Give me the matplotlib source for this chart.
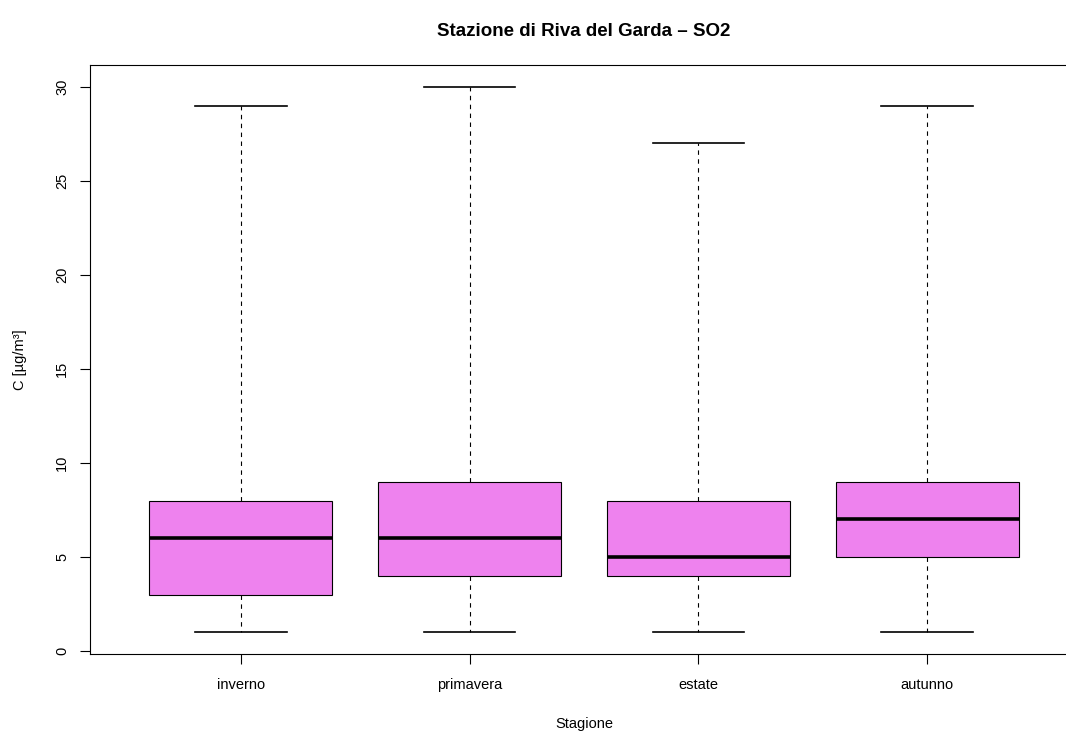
import matplotlib
matplotlib.use('Agg')
import matplotlib.pyplot as plt

plt.rcParams['font.family'] = ['Liberation Sans', 'DejaVu Sans']

# ----- Données -----
stagioni = ['inverno', 'primavera', 'estate', 'autunno']
minimi = [1, 1, 1, 1]
q1 = [3, 4, 4, 5]
mediane = [6, 6, 5, 7]
q3 = [8, 9, 8, 9]
massimi = [29, 30, 27, 29]
y_ticks = [0, 5, 10, 15, 20, 25, 30]

stats = []
for i in range(len(stagioni)):
    stats.append({'label': stagioni[i], 'whislo': minimi[i], 'q1': q1[i],
                  'med': mediane[i], 'q3': q3[i], 'whishi': massimi[i], 'fliers': []})

fig = plt.figure(figsize=(10.66, 7.34), dpi=100)
ax = fig.add_axes([90 / 1066, 1 - 654 / 734, (1078 - 90) / 1066, (654 - 65) / 734])

ax.bxp(stats, positions=[1, 2, 3, 4], widths=0.8, patch_artist=True,
       showfliers=False,
       boxprops=dict(facecolor='#EE82EE', edgecolor='black', linewidth=0.8),
       medianprops=dict(color='black', linewidth=2.6),
       whiskerprops=dict(color='black', linewidth=0.8, linestyle=(0, (4, 4))),
       capprops=dict(color='black', linewidth=1.2),
       capwidths=0.4)

ax.set_xlim(0.34, 4.66)
ax.set_ylim(-0.16, 31.16)
ax.set_yticks(y_ticks)
ax.set_yticklabels([str(v) for v in y_ticks], rotation=90, va='center')
ax.tick_params(axis='both', direction='out', length=7, width=0.8, labelsize=10.5, pad=8)
ax.tick_params(axis='x', pad=10)

for s in ax.spines.values():
    s.set_linewidth(0.8)

ax.set_ylabel('C [µg/m³]', fontsize=10.5, labelpad=20)
ax.set_xlabel('Stagione', fontsize=10.5, labelpad=18)
fig.text(584 / 1066, 1 - 31 / 734, 'Stazione di Riva del Garda – SO2',
         ha='center', va='center', fontsize=13.5, fontweight='bold')

fig.savefig('out.png', dpi=100)
